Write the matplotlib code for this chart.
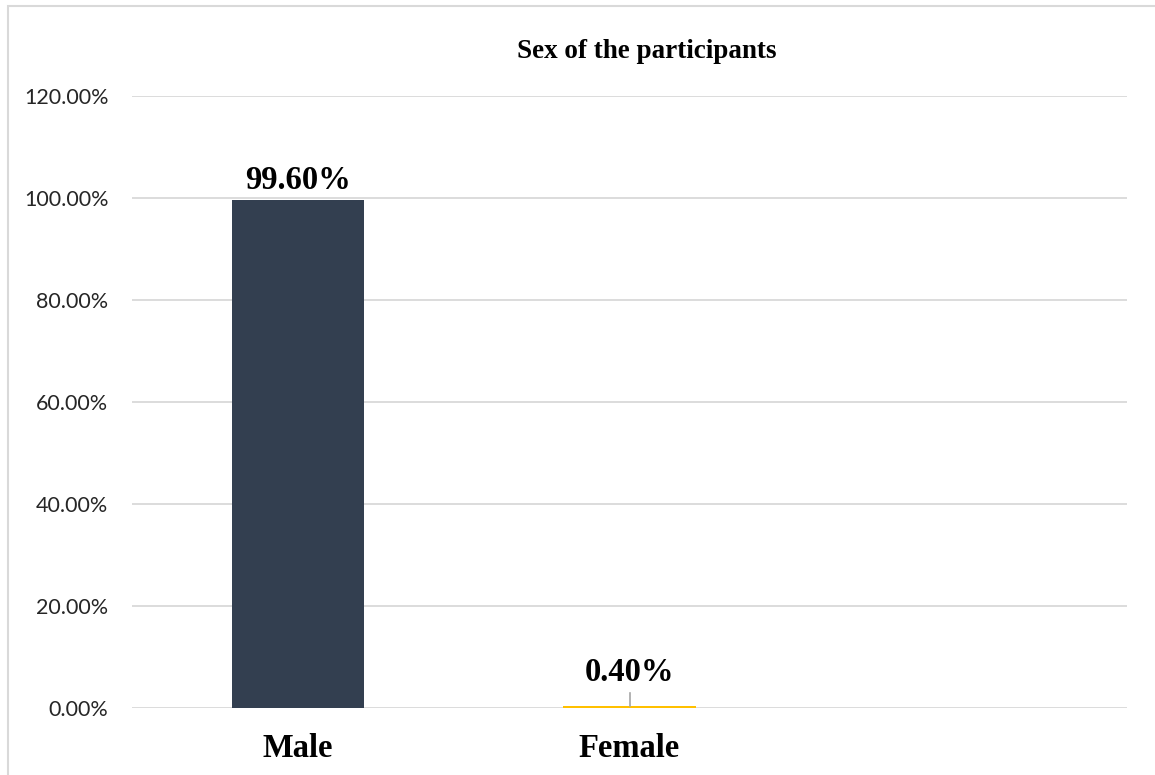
import matplotlib.pyplot as plt
from matplotlib.patches import Rectangle
from matplotlib.ticker import FuncFormatter

# Share of participants by sex (percent)
categories = ["Male", "Female", ""]
shares = [99.60, 0.40, 0]
bar_colors = ["#333F50", "#FFC000", "#FFFFFF"]
label_text = ["99.60%", "0.40%"]
y_ticks = [0, 20, 40, 60, 80, 100, 120]

W, H = 1155, 775
fig = plt.figure(figsize=(W / 100, H / 100), dpi=100)

# light chart frame, partially visible
fig.patches.append(Rectangle((8 / W, -0.1), 1.2, 1.1 - 6 / H,
                             transform=fig.transFigure, fill=False,
                             edgecolor="#D9D9D9", linewidth=1.5))

ax = fig.add_axes([132 / W, 1 - 708 / H, (1127 - 132) / W, (708 - 96) / H])

x = list(range(len(categories)))
ax.bar(x, shares, width=0.4, color=bar_colors, zorder=3)

ax.set_xlim(-0.5, len(categories) - 0.5)
ax.set_ylim(0, 120)
ax.set_yticks(y_ticks)
ax.yaxis.set_major_formatter(FuncFormatter(lambda v, p: f"{v:.2f}%"))
ax.grid(axis="y", color="#D9D9D9", linewidth=1.3, zorder=0)
for s in ax.spines.values():
    s.set_visible(False)
ax.tick_params(axis="y", length=0, pad=17, labelsize=15.5, labelcolor="#262626")
ax.tick_params(axis="x", length=0, pad=18)
for lbl in ax.get_yticklabels():
    lbl.set_family("Lato")
ax.set_xticks(x)
ax.set_xticklabels(categories, family="Liberation Serif", fontweight="bold",
                   fontsize=23.5)

# value labels
ax.text(x[0], shares[0] + 0.8, label_text[0], ha="center", va="bottom",
        family="Liberation Serif", fontweight="bold", fontsize=23.5, zorder=4)
ax.text(x[1], shares[1] + 3.6, label_text[1], ha="center", va="bottom",
        family="Liberation Serif", fontweight="bold", fontsize=23.5, zorder=4)
ax.plot([x[1], x[1]], [shares[1], shares[1] + 2.6], color="#A6A6A6",
        linewidth=1.2, zorder=4)

fig.text(647 / W, 1 - 52 / H, "Sex of the participants", ha="center",
         va="center", family="Liberation Serif", fontweight="bold",
         fontsize=19.5)

fig.savefig("out.png", dpi=100)
